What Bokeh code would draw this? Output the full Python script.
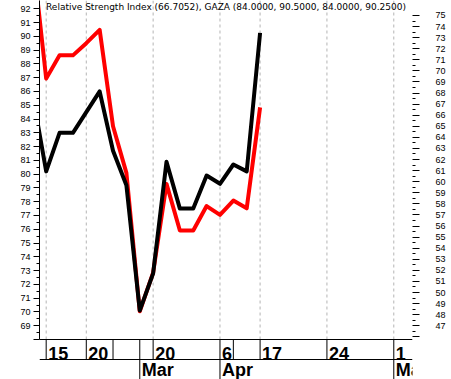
from bokeh.plotting import figure
from bokeh.models import Range1d, LinearAxis, FixedTicker, Label
from bokeh.core.properties import value
from bokeh.embed import file_html
from bokeh.resources import INLINE

# ---- data (trading-session index; session -1 lies just left of the visible window) ----
session = list(range(-1, 17))
gaza_close = [85.7, 80.2, 83.0, 83.0, 84.5, 86.0, 81.7, 79.2, 70.1, 72.8,
              80.9, 77.5, 77.5, 79.9, 79.3, 80.7, 80.2, 90.25]
rsi = [80.3, 69.3, 71.4, 71.4, 72.5, 73.7, 65.0, 60.8, 48.3, 51.8,
       59.8, 55.6, 55.6, 57.8, 57.0, 58.3, 57.6, 66.7052]

day_ticks = [0, 3, 5, 7, 8, 13, 14, 16, 21, 26]
day_labels = ["15", "20", "", "", "20", "6", "", "17", "24", "1"]
month_ticks = [7, 13, 26]
month_labels = ["Mar", "Apr", "May"]

price_ticks = list(range(68, 93))
rsi_ticks = list(range(46, 76))
title_text = "Relative Strength Index (66.7052), GAZA (84.0000, 90.5000, 84.0000, 90.2500)"

W, H = 451, 379

# ---- figure ----
p = figure(width=W, height=H, output_backend="svg", toolbar_location=None,
           x_range=Range1d(-0.5, 27.4), y_range=Range1d(65.10, 92.60),
           x_axis_location=None, y_axis_location="left",
           min_border_left=39, min_border_right=39, min_border_top=0, min_border_bottom=0,
           outline_line_color=None, background_fill_color="white", border_fill_color="white")
p.grid.visible = False
p.extra_y_ranges = {"rsi": Range1d(42.15, 76.35), "band": Range1d(-2.0, 16.95)}
band_top = p.extra_y_ranges["band"].end

# left (price) axis
ax = p.yaxis[0]
ax.ticker = FixedTicker(ticks=price_ticks, minor_ticks=[t + 0.5 for t in price_ticks[:-1]])
ax.bounds = (price_ticks[0], p.y_range.end)
ax.major_label_overrides = {price_ticks[0]: ""}
ax.axis_line_color = "black"
ax.major_tick_line_color = "black"
ax.minor_tick_line_color = "black"
ax.major_tick_out = 6
ax.major_tick_in = 0
ax.minor_tick_out = 3
ax.minor_tick_in = 0
ax.major_label_standoff = 3
ax.major_label_text_font = "Liberation Sans"
ax.major_label_text_font_size = "9px"
ax.major_label_text_color = "black"

# right (RSI) axis
ay = LinearAxis(y_range_name="rsi",
                ticker=FixedTicker(ticks=rsi_ticks, minor_ticks=[t + 0.5 for t in rsi_ticks[:-1]]))
ay.bounds = (45.76, p.extra_y_ranges["rsi"].end)
ay.major_label_overrides = {rsi_ticks[0]: ""}
ay.axis_line_color = None
ay.major_tick_line_color = "black"
ay.minor_tick_line_color = "black"
ay.major_tick_out = 7
ay.major_tick_in = 0
ay.minor_tick_out = 3
ay.minor_tick_in = 0
ay.major_label_standoff = 16
ay.major_label_text_font = "Liberation Sans"
ay.major_label_text_font_size = "9px"
ay.major_label_text_color = "black"
p.add_layout(ay, "right")

# dashed vertical grid at labelled dates
labelled = [t for t, l in zip(day_ticks, day_labels) if l]
p.segment(x0=labelled, y0=0, x1=labelled, y1=band_top, y_range_name="band",
          line_color="#b4b4b4", line_width=1, line_dash="3 3")

# series
p.line(session, rsi, y_range_name="rsi", line_color="#ff0000", line_width=4, line_join="round")
p.line(session, gaza_close, line_color="black", line_width=4, line_join="round")

# date band (two rows below the chart)
p.hspan(y=[0, -1], y_range_name="band", line_color="black", line_width=1)
p.segment(x0=day_ticks, y0=0, x1=day_ticks, y1=-1, y_range_name="band",
          line_color="black", line_width=1)
p.segment(x0=month_ticks, y0=-1, x1=month_ticks, y1=-2, y_range_name="band",
          line_color="black", line_width=1)
p.text(x=day_ticks, y=-1, text=day_labels, y_range_name="band",
       text_font=value("Liberation Sans"), text_font_style="bold", text_font_size="18px",
       text_align="left", text_baseline="bottom", x_offset=2, text_color="black")
p.text(x=month_ticks, y=-2, text=month_labels, y_range_name="band",
       text_font=value("Liberation Sans"), text_font_style="bold", text_font_size="18px",
       text_align="left", text_baseline="bottom", x_offset=2, text_color="black")

# legend / title line inside the plot
p.add_layout(Label(x=6.5, y=H - 1, x_units="screen", y_units="screen", text=title_text,
                   text_font="DejaVu Sans", text_font_size="9px", text_color="black",
                   text_align="left", text_baseline="top"))

open("out.html", "w").write(file_html(p, INLINE))
